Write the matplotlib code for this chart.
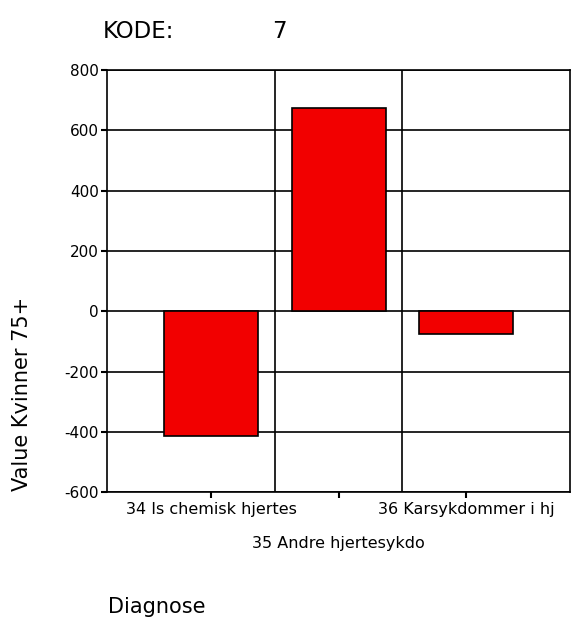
import matplotlib
matplotlib.use("Agg")
import matplotlib.pyplot as plt

plt.rcParams['font.family'] = ['DejaVu Sans']

categories = ["34 Is chemisk hjertes", "35 Andre hjertesykdo", "36 Karsykdommer i hj"]
values = [-412, 675, -74]
y_ticks = [-600, -400, -200, 0, 200, 400, 600, 800]
kode = "7"

fig = plt.figure(figsize=(5.72, 6.21), dpi=100)
ax = fig.add_axes([0.187, 0.207, 0.810, 0.680])

x = list(range(len(categories)))
ax.bar(x, values, width=0.74, color="#f20000", edgecolor="black", linewidth=1.2, zorder=3)

ax.set_ylim(-600, 800)
ax.set_xlim(-0.82, 2.82)
ax.set_yticks(y_ticks)
ax.set_yticklabels([str(v) for v in y_ticks], fontsize=11)
ax.set_xticks(x)
ax.set_xticklabels(categories, fontsize=11.5)

# horizontal grid at each y tick, vertical separators between categories
for v in y_ticks:
    ax.axhline(v, color="black", linewidth=1.2, zorder=1)
for b in [0.5, 1.5]:
    ax.axvline(b, color="black", linewidth=1.2, zorder=1)

for s in ax.spines.values():
    s.set_linewidth(1.2)
    s.set_color("black")

ax.tick_params(axis="both", direction="out", length=4, width=1.5, colors="black")
ax.tick_params(axis="y", pad=2)
ax.tick_params(axis="x", pad=3)
ax.xaxis.get_major_ticks()[1].set_pad(27)

fig.text(22 / 572, 1 - 394 / 621, "Value Kvinner 75+", fontsize=15,
         rotation=90, va="center", ha="center")

fig.text(103 / 572, 1 - 32 / 621, "KODE:", fontsize=16.5, va="center", ha="left")
fig.text(272 / 572, 1 - 32 / 621, kode, fontsize=16.5, va="center", ha="left")
fig.text(108 / 572, 1 - 607 / 621, "Diagnose", fontsize=15, va="center", ha="left")

fig.savefig("out.png", dpi=100)
